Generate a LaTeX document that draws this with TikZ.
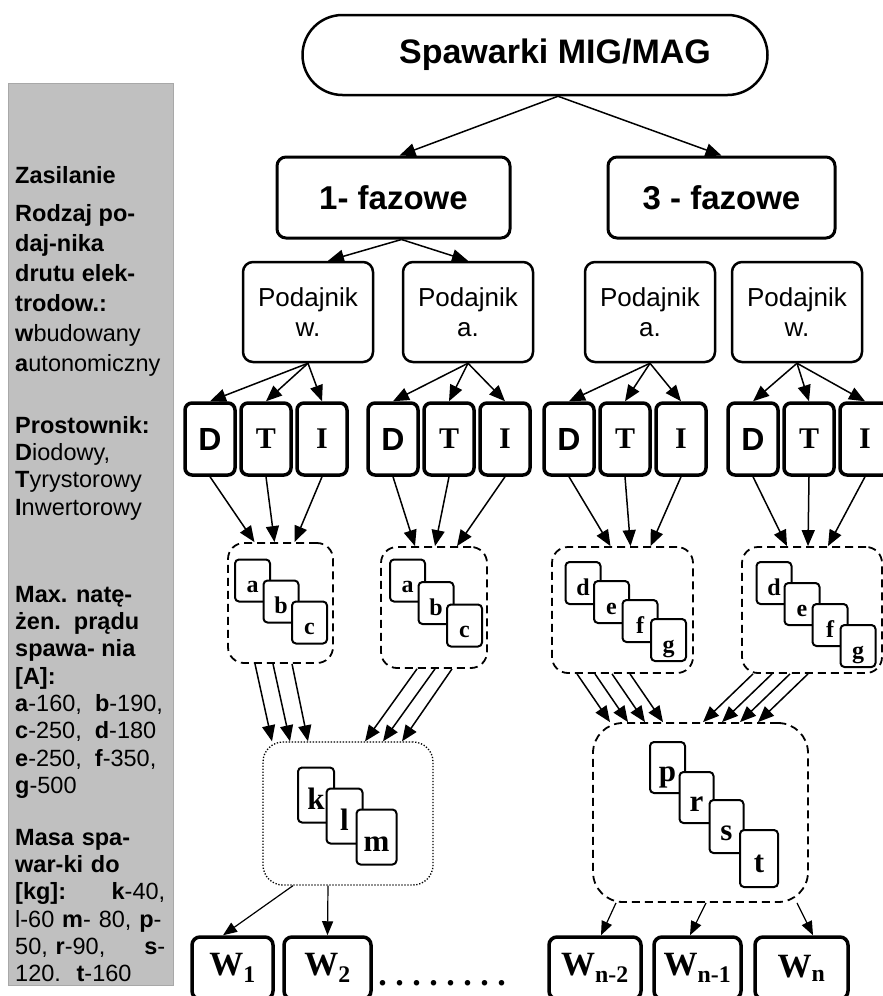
\documentclass[tikz,border=0pt]{standalone}
\usepackage{fontspec}
\setmainfont{Liberation Serif}
\setsansfont{Liberation Sans}
\usetikzlibrary{arrows.meta,positioning}
\definecolor{panelgray}{RGB}{192,192,192}
\definecolor{panelline}{RGB}{168,168,168}
\newcommand{\dotgap}{\hspace{8.5pt}}

\begin{document}
\begin{tikzpicture}[x=1pt, y=-1pt,
    arr/.style={-{Triangle[length=16pt,width=13pt]}, line width=1.5pt},
    thinarr/.style={-{Triangle[length=14pt,width=11pt]}, line width=1.2pt},
    stadium/.style={draw, line width=2.5pt, rounded corners=40pt, minimum width=465pt, minimum height=80pt, inner sep=0pt, font=\sffamily\bfseries\fontsize{34}{36}\selectfont},
    mainbox/.style={draw, line width=3pt, rounded corners=9pt, minimum height=81pt, inner sep=0pt, font=\sffamily\bfseries\fontsize{33}{36}\selectfont},
    feedbox/.style={draw, line width=2.5pt, rounded corners=10pt, minimum width=130pt, minimum height=100pt, inner sep=0pt, align=center, font=\sffamily\fontsize{26}{30}\selectfont},
    rectbox/.style={draw, line width=3.5pt, rounded corners=7pt, minimum width=50pt, minimum height=72pt, inner sep=0pt, font=\bfseries\fontsize{30}{30}\selectfont},
    sansbox/.style={rectbox, font=\sffamily\bfseries\fontsize{32}{32}\selectfont},
    groupbox/.style={draw, dash pattern=on 8pt off 5pt, line width=1.8pt, rounded corners=16pt, inner sep=0pt},
    card/.style={draw, fill=white, line width=2pt, rounded corners=4pt, minimum width=35pt, minimum height=42pt, inner sep=0pt, text height=24pt, text depth=0pt, font=\bfseries\fontsize{24}{24}\selectfont},
    bigcard/.style={card, minimum width=36pt, minimum height=55pt, text height=28pt, font=\bfseries\fontsize{31}{31}\selectfont},
    wbox/.style={draw, line width=3.5pt, rounded corners=8pt, minimum height=62pt, inner sep=0pt, font=\bfseries\fontsize{34}{34}\selectfont},
    legend/.style={anchor=north west, inner sep=0pt, align=left, font=\sffamily\fontsize{23.5}{27.3}\selectfont}]

    \useasboundingbox (0,0) rectangle (883,996);
    \fill[white] (0,0) rectangle (883,996);
    \clip (0,0) rectangle (883,996);

    % side panel
    \draw[fill=panelgray, draw=panelline, line width=1pt] (8,83) rectangle (173,985);
    \node[legend] (supply) at (15,166) {\textbf{Zasilanie}};
    \node[legend, font=\sffamily\fontsize{23.5}{30}\selectfont] (feeder) at (15,204) {\textbf{Rodzaj po-}\\\textbf{daj-nika}\\\textbf{drutu elek-}\\\textbf{trodow.:}\\\textbf{w}budowany\\\textbf{a}utonomiczny};
    \node[legend] (rectifier) at (15,416) {\textbf{Prostownik:}\\\textbf{D}iodowy,\\\textbf{T}yrystorowy\\\textbf{I}nwertorowy};
    \node[legend] (current) at (15,586) {\textbf{Max. natę-}\\\textbf{żen.\ \ prądu}\\\textbf{spawa- nia}\\\textbf{[A]:}\\\textbf{a}-160,\ \ \textbf{b}-190,\\\textbf{c}-250,\ \ \textbf{d}-180\\\textbf{e}-250,\ \ \textbf{f}-350,\\\textbf{g}-500};
    \node[legend, text width=150pt] (mass) at (15,829) {\textbf{Masa spa-}\\\textbf{war-ki do}\\\textbf{[kg]:}\hfill\textbf{k}-40,\\l-60 \textbf{m}- 80, \textbf{p}-\\50, \textbf{r}-90,\hfill\textbf{s}-\\120.\ \ \textbf{t}-160};

    % tree
    \node[stadium] (title) at (535,55) {\hspace*{40pt}Spawarki MIG/MAG};
    \node[mainbox, minimum width=233pt] (one) at (393.5,197.5) {1- fazowe};
    \node[mainbox, minimum width=227pt] (three) at (721.5,197.5) {3 - fazowe};

    \node[feedbox] (fw1) at (308,312) {Podajnik\\w.};
    \node[feedbox] (fa1) at (468,312) {Podajnik\\a.};
    \node[feedbox] (fa3) at (650,312) {Podajnik\\a.};
    \node[feedbox] (fw3) at (797,312) {Podajnik\\w.};

    \node[sansbox] (d1) at (210,439) {D};
    \node[rectbox, right of=d1, node distance=56pt] (t1) {T};
    \node[rectbox, right of=t1, node distance=56pt] (i1) {I};
    \node[sansbox] (d2) at (393,439) {D};
    \node[rectbox, right of=d2, node distance=56pt] (t2) {T};
    \node[rectbox, right of=t2, node distance=56pt] (i2) {I};
    \node[sansbox] (d3) at (569,439) {D};
    \node[rectbox, right of=d3, node distance=56pt] (t3) {T};
    \node[rectbox, right of=t3, node distance=56pt] (i3) {I};
    \node[sansbox] (d4) at (753,439) {D};
    \node[rectbox, right of=d4, node distance=56pt] (t4) {T};
    \node[rectbox, right of=t4, node distance=56pt] (i4) {I};

    \node[groupbox, minimum width=105pt, minimum height=120pt] (ga) at (280.5,603) {};
    \node[groupbox, minimum width=106pt, minimum height=121pt] (gb) at (434,607.5) {};
    \node[groupbox, minimum width=141pt, minimum height=126pt] (gc) at (622.5,610) {};
    \node[groupbox, minimum width=140pt, minimum height=126pt] (gd) at (812,610) {};

    \foreach \lt [count=\i from 0] in {a,b,c}
      \node[card] (ga\lt) at (252.5+28.5*\i, 580.5+21*\i) {\lt};
    \foreach \lt [count=\i from 0] in {a,b,c}
      \node[card] (gb\lt) at (407.5+28.5*\i, 580.5+22.5*\i) {\lt};
    \foreach \lt [count=\i from 0] in {d,e,f,g}
      \node[card] (gc\lt) at (583+28.5*\i, 583+19*\i) {\lt};
    \foreach \lt [count=\i from 0] in {d,e,f,g}
      \node[card] (gd\lt) at (774+28*\i, 583+21*\i) {\lt};

    \node[groupbox, dash pattern=on 1.3pt off 1.7pt, line width=1.3pt, rounded corners=20pt, minimum width=170pt, minimum height=143pt] (gk) at (348,813.5) {};
    \node[bigcard] (ck) at (316,795) {k};
    \node[bigcard] (cl) at (344.5,816) {l};
    \node[bigcard, minimum width=40pt] (cm) at (376.5,837) {m};

    \node[groupbox, rounded corners=30pt, minimum width=215pt, minimum height=179pt] (gp) at (700.5,812.5) {};
    \node[bigcard, minimum width=35pt, minimum height=51pt] (cp) at (667.5,767.5) {p};
    \node[bigcard, minimum width=34pt, minimum height=51pt] (cr) at (696.5,797.5) {r};
    \node[bigcard, minimum width=34pt, minimum height=53pt] (cs) at (726.5,826.5) {s};
    \node[bigcard, minimum width=38pt, minimum height=57pt] (ct) at (759,858.5) {t};

    \node[wbox, minimum width=81pt] (w1) at (232.5,968) {W\textsubscript{1}};
    \node[wbox, minimum width=87pt] (w2) at (327.5,968) {W\textsubscript{2}};
    \node[font=\bfseries\fontsize{34}{34}\selectfont] (dots) at (442,983) {.\dotgap.\dotgap.\dotgap.\dotgap.\dotgap.\dotgap.\dotgap.};
    \node[wbox, minimum width=92pt] (wn2) at (595,968) {W\textsubscript{n-2}};
    \node[wbox, minimum width=87pt] (wn1) at (697.5,968) {W\textsubscript{n-1}};
    \node[wbox, minimum width=93pt] (wn) at (801.5,968) {W\textsubscript{n}};

    % connectors
    \draw[arr] ([xshift=23]title.south) -- ([xshift=6]one.north);
    \draw[arr] ([xshift=23]title.south) -- (three.north);
    \draw[arr] ([xshift=8]one.south) -- ([xshift=20]fw1.north);
    \draw[arr] ([xshift=8]one.south) -- (fa1.north);

    \foreach \p/\g in {fw1/1, fa1/2, fa3/3, fw3/4} {
      \draw[arr] (\p.south) -- (d\g.north);
      \draw[arr] (\p.south) -- (t\g.north);
      \draw[arr] (\p.south) -- (i\g.north);
    }

    \foreach \g/\bx/\a/\b/\c in {1/ga/-26/-6/14, 2/gb/-19/1/23, 3/gc/-12/8/28, 4/gd/-25/-4/16} {
      \draw[arr] (d\g.south) -- ([xshift=\a]\bx.north);
      \draw[arr] (t\g.south) -- ([xshift=\b]\bx.north);
      \draw[arr] (i\g.south) -- ([xshift=\c]\bx.north);
    }

    \foreach \s/\e in {-25.5/-76, -7.5/-58, 11.5/-40}
      \draw[arr] ([xshift=\s]ga.south) -- ([xshift=\e]gk.north);
    \foreach \s/\e in {-17/17, 1/35, 18/54}
      \draw[arr] ([xshift=\s]gb.south) -- ([xshift=\e]gk.north);
    \foreach \s/\e in {-45.5/-90.5, -27.5/-72.5, -10.5/-55.5, 7.5/-37.5}
      \draw[arr] ([xshift=\s]gc.south) -- ([xshift=\e]gp.north);
    \foreach \s/\e in {-59/2.5, -40/21.5, -22/39.5, -4/57.5}
      \draw[arr] ([xshift=\s]gd.south) -- ([xshift=\e]gp.north);

    \draw[thinarr] ([xshift=-55]gk.south) -- ([xshift=-9.5]w1.north);
    \draw[thinarr] ([xshift=-20]gk.south) -- (w2.north);
    \draw[thinarr] ([xshift=-84.5]gp.south) -- ([xshift=6]wn2.north);
    \draw[thinarr] ([xshift=5.5]gp.south) -- ([xshift=-7.5]wn1.north);
    \draw[thinarr] ([xshift=96.5]gp.south) -- ([xshift=11.5]wn.north);

\end{tikzpicture}
\end{document}
